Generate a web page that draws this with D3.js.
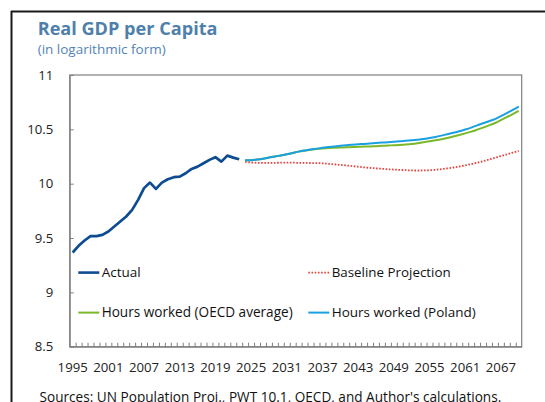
<!DOCTYPE html>
<html><head><meta charset="utf-8">
<script src="https://cdn.jsdelivr.net/npm/d3@7"></script>
<style>
html,body{margin:0;padding:0;background:#fff;}
svg{display:block;font-family:"Open Sans","Noto Sans",sans-serif;}
</style></head>
<body><svg id="c" width="545" height="402"></svg>
<script>
// ---- data ----
const actualYears = d3.range(1995, 2024);
const actual = [9.367,9.428,9.477,9.517,9.517,9.529,9.560,9.606,9.652,9.698,
  9.759,9.851,9.959,10.010,9.952,10.010,10.041,10.060,10.065,10.096,
  10.136,10.157,10.188,10.219,10.244,10.203,10.258,10.240,10.225];
const projYears = d3.range(2024, 2071);
const baseline = [10.200,10.195,10.192,10.191,10.191,10.192,10.193,10.193,10.193,10.192,
  10.191,10.190,10.189,10.187,10.183,10.178,10.173,10.168,10.162,10.156,
  10.150,10.145,10.141,10.137,10.133,10.130,10.127,10.124,10.122,10.121,
  10.122,10.124,10.128,10.134,10.141,10.149,10.158,10.168,10.180,10.193,
  10.207,10.222,10.238,10.254,10.270,10.286,10.302];
const hoursPoland = [10.215,10.216,10.222,10.230,10.240,10.250,10.260,10.271,10.283,10.295,
  10.305,10.314,10.322,10.330,10.337,10.343,10.349,10.354,10.358,10.362,
  10.366,10.370,10.374,10.378,10.382,10.386,10.390,10.394,10.399,10.405,
  10.412,10.420,10.430,10.442,10.455,10.468,10.482,10.498,10.516,10.537,
  10.556,10.575,10.594,10.622,10.650,10.679,10.708];
const hoursOECD = [10.215,10.216,10.222,10.230,10.240,10.250,10.260,10.271,10.283,10.295,
  10.304,10.312,10.319,10.324,10.328,10.331,10.333,10.335,10.337,10.339,
  10.341,10.343,10.345,10.348,10.351,10.354,10.357,10.361,10.366,10.373,
  10.381,10.390,10.399,10.409,10.421,10.434,10.448,10.463,10.479,10.497,
  10.516,10.536,10.558,10.585,10.612,10.641,10.670];
const allYears = d3.range(1995, 2071);
const xTickLabels = d3.range(1995, 2071, 6);
const yTicks = [8.5, 9, 9.5, 10, 10.5, 11];
const titleText = "Real GDP per Capita";
const subtitleText = "(in logarithmic form)";
const sourceText = "Sources: UN Population Proj., PWT 10.1, OECD, and Author's calculations.";
const legendItems = [
  {name:"Actual", color:"#0e4c92", dash:null, w:2.6, col:0, row:0, tw:39},
  {name:"Baseline Projection", color:"#e8413c", dash:"1.6,1.6", w:1.8, col:1, row:0, tw:119},
  {name:"Hours worked (OECD average)", color:"#7ab829", dash:null, w:2, col:0, row:1, tw:191},
  {name:"Hours worked (Poland)", color:"#1aa0e0", dash:null, w:2, col:1, row:1, tw:144}
];

// ---- layout ----
const svg = d3.select("#c");
const L = 69.7, R = 521.7, T = 75, B = 346.7;
const x = d3.scaleBand().domain(allYears).range([L, R]).padding(0);
const xc = yr => x(yr) + x.bandwidth()/2;
const y = d3.scaleLinear().domain([8.5, 11]).range([B, T]);

// outer frame
svg.append("line").attr("x1",11).attr("x2",545).attr("y1",11.5).attr("y2",11.5).attr("stroke","#1a1a1a").attr("stroke-width",2);
svg.append("line").attr("x1",11.5).attr("x2",11.5).attr("y1",11).attr("y2",402).attr("stroke","#1a1a1a").attr("stroke-width",2);

function fitText(sel, target){
  const n = sel.node(); const w = n.getComputedTextLength();
  const fs = parseFloat(sel.attr("font-size"));
  sel.attr("font-size", (fs*target/w).toFixed(2));
}

fitText(svg.append("text").attr("x",37.7).attr("y",35).attr("font-size",17).attr("font-weight","bold")
  .attr("fill","#4f7fab").text(titleText), 180);
fitText(svg.append("text").attr("x",37.7).attr("y",54).attr("font-size",13)
  .attr("fill","#5484b4").text(subtitleText), 128);

// plot frame
svg.append("rect").attr("x",L).attr("y",T).attr("width",R-L).attr("height",B-T)
  .attr("fill","none").attr("stroke","#7f7f7f").attr("stroke-width",1.2);

// y axis
const yAxis = svg.append("g").attr("transform",`translate(${L},0)`)
  .call(d3.axisLeft(y).tickValues(yTicks).tickFormat(d3.format("")).tickSizeInner(-4).tickSizeOuter(0).tickPadding(16.4));
yAxis.select(".domain").attr("stroke","#7f7f7f");
yAxis.selectAll(".tick line").attr("stroke","#7f7f7f");
yAxis.selectAll("text").attr("font-size",13.2).attr("fill","#222").attr("font-family","'Open Sans',sans-serif");

// x axis labels
const xAxis = svg.append("g").attr("transform",`translate(0,${B})`)
  .call(d3.axisBottom(x).tickValues(xTickLabels).tickSize(0).tickPadding(15.5));
xAxis.select(".domain").remove();
xAxis.selectAll("text").attr("font-size",13.2).attr("fill","#222").attr("font-family","'Open Sans',sans-serif");

// minor ticks at band boundaries
const xb = d3.scaleLinear().domain([0, allYears.length]).range([L, R]);
const xMinor = svg.append("g").attr("transform",`translate(0,${B})`)
  .call(d3.axisBottom(xb).tickValues(d3.range(1, allYears.length)).tickFormat("").tickSizeInner(-4).tickSizeOuter(0));
xMinor.select(".domain").attr("stroke","#7f7f7f");
xMinor.selectAll(".tick line").attr("stroke","#7f7f7f");

// lines
const smooth = d3.line().x(d => xc(d[0])).y(d => y(d[1])).curve(d3.curveMonotoneX);
const straight = d3.line().x(d => xc(d[0])).y(d => y(d[1]));
function draw(years, vals, color, w, dash, gen){
  svg.append("path").datum(years.map((yr,i)=>[yr, vals[i]]))
    .attr("d", gen).attr("fill","none").attr("stroke",color).attr("stroke-width",w)
    .attr("stroke-linejoin","round").attr("stroke-dasharray",dash);
}
draw(projYears, baseline, "#e8413c", 1.8, "1.6,1.6", smooth);
draw(projYears, hoursOECD, "#7ab829", 2, null, smooth);
draw(projYears, hoursPoland, "#1aa0e0", 2, null, smooth);
draw(actualYears, actual, "#0e4c92", 2.7, null, straight);

// legend
const colX = [78.3, 308.3], rowY = [272.6, 312.6];
legendItems.forEach(it=>{
  const lx = colX[it.col], ly = rowY[it.row];
  svg.append("line").attr("x1",lx).attr("x2",lx+21).attr("y1",ly).attr("y2",ly)
    .attr("stroke",it.color).attr("stroke-width",it.w).attr("stroke-dasharray",it.dash);
  fitText(svg.append("text").attr("x",lx+23.4).attr("y",ly).attr("dy","0.36em").attr("font-size",13.5)
    .attr("fill","#111").text(it.name), it.tw);
});

// source (cut off at the bottom edge, as in the reference)
fitText(svg.append("text").attr("x",39.5).attr("y",401.5).attr("font-size",13)
  .attr("fill","#111").text(sourceText), 462);
</script></body></html>
